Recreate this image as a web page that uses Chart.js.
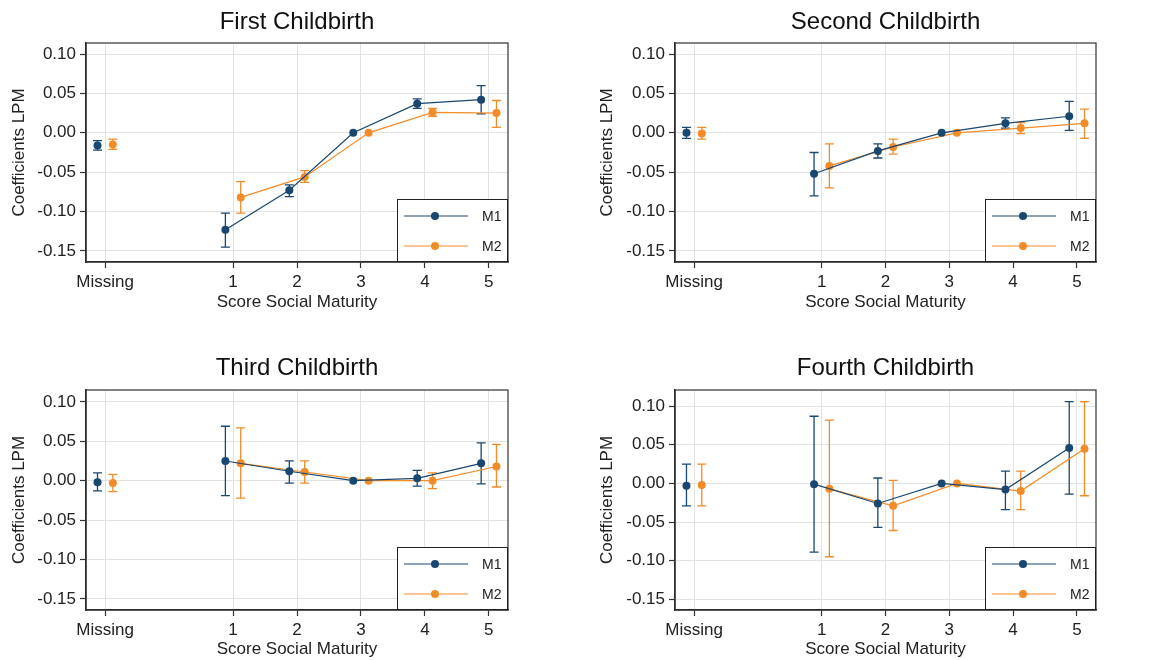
<!DOCTYPE html>
<html>
<head>
<meta charset="utf-8">
<script src="https://cdn.jsdelivr.net/npm/chart.js@4.4.1/dist/chart.umd.min.js"></script>
<style>
  html, body { margin: 0; padding: 0; background: #fff; }
  #wrap { position: relative; width: 1150px; height: 660px; }
  canvas { position: absolute; }
</style>
</head>
<body>
<div id="wrap">
  <canvas id="c0" width="575" height="330" style="left:0;top:0"></canvas>
  <canvas id="c1" width="575" height="330" style="left:575px;top:0"></canvas>
  <canvas id="c2" width="575" height="330" style="left:0;top:330px"></canvas>
  <canvas id="c3" width="575" height="330" style="left:575px;top:330px"></canvas>
</div>
<script>
const titles = ['First Childbirth', 'Second Childbirth', 'Third Childbirth', 'Fourth Childbirth'];
const scoreLabels = ['Missing', '1', '2', '3', '4', '5'];
const scorePos = [-1, 1, 2, 3, 4, 5];
const yTicks = [-0.15, -0.10, -0.05, 0, 0.05, 0.10];
const seriesNames = ['M1', 'M2'];
const yMax = [0.114, 0.114, 0.115, 0.121];
const yMin = -0.164;

// one row per panel, columns follow scoreLabels (score 3 is the reference, no CI)
const m1Coef = [
  [-0.016, -0.123, -0.073, 0, 0.037, 0.042],
  [0.000, -0.052, -0.023, 0, 0.012, 0.021],
  [-0.002, 0.025, 0.012, 0, 0.003, 0.022],
  [-0.003, -0.001, -0.026, 0, -0.008, 0.046]
];
const m1Lo = [
  [-0.022, -0.145, -0.081, null, 0.031, 0.024],
  [-0.007, -0.080, -0.032, null, 0.006, 0.003],
  [-0.013, -0.019, -0.003, null, -0.007, -0.004],
  [-0.029, -0.089, -0.057, null, -0.034, -0.014]
];
const m1Hi = [
  [-0.010, -0.102, -0.066, null, 0.043, 0.060],
  [0.007, -0.025, -0.014, null, 0.019, 0.040],
  [0.010, 0.069, 0.025, null, 0.013, 0.048],
  [0.025, 0.087, 0.007, null, 0.016, 0.106]
];
const m2Coef = [
  [-0.015, -0.082, -0.056, 0, 0.026, 0.025],
  [-0.001, -0.042, -0.018, 0, 0.006, 0.012],
  [-0.003, 0.022, 0.011, 0, 0.000, 0.018],
  [-0.002, -0.007, -0.029, 0, -0.010, 0.045]
];
const m2Lo = [
  [-0.021, -0.102, -0.063, null, 0.021, 0.007],
  [-0.008, -0.070, -0.027, null, -0.001, -0.007],
  [-0.014, -0.022, -0.003, null, -0.010, -0.008],
  [-0.029, -0.095, -0.061, null, -0.034, -0.016]
];
const m2Hi = [
  [-0.008, -0.062, -0.048, null, 0.031, 0.041],
  [0.007, -0.014, -0.008, null, 0.013, 0.030],
  [0.008, 0.067, 0.025, null, 0.010, 0.046],
  [0.025, 0.082, 0.004, null, 0.016, 0.106]
];

const FONT = "'Liberation Sans', Arial, Helvetica, sans-serif";
const colors = ['#1a476f', '#f28c28'];
const shift = [-0.12, 0.12];

// layout per panel (pixels inside each 575x330 canvas)
const layout = [
  { yW: 86,  padR: 67, tTop: 8,    tBot: 6.2, xH: 68, xPad: 17.8, yPad: 8.8 },
  { yW: 100, padR: 54, tTop: 8,    tBot: 6.2, xH: 68, xPad: 17.8, yPad: 21.8 },
  { yW: 86,  padR: 67, tTop: 23.6, tBot: 7.6, xH: 50, xPad: 0,    yPad: 8.8 },
  { yW: 100, padR: 54, tTop: 23.6, tBot: 7.6, xH: 50, xPad: 0,    yPad: 21.8 }
];

const errorBars = {
  id: 'errorBars',
  beforeDatasetsDraw(chart) {
    const { ctx, scales: { x, y } } = chart;
    chart.data.datasets.forEach(ds => {
      ctx.save();
      ctx.strokeStyle = ds.borderColor;
      ctx.lineWidth = 1.3;
      ds.data.forEach((p, i) => {
        const lo = ds.errLo[i], hi = ds.errHi[i];
        if (lo == null) return;
        const px = x.getPixelForValue(p.x);
        const y1 = y.getPixelForValue(lo), y2 = y.getPixelForValue(hi);
        ctx.beginPath();
        ctx.moveTo(px, y1); ctx.lineTo(px, y2);
        ctx.moveTo(px - 4.5, y1); ctx.lineTo(px + 4.5, y1);
        ctx.moveTo(px - 4.5, y2); ctx.lineTo(px + 4.5, y2);
        ctx.stroke();
      });
      ctx.restore();
    });
  }
};

// plot frame + boxed legend in the lower right corner
const frameLegend = {
  id: 'frameLegend',
  afterDraw(chart) {
    const { ctx, chartArea: a } = chart;
    ctx.save();
    ctx.strokeStyle = '#333';
    ctx.lineWidth = 1.2;
    ctx.strokeRect(a.left, a.top, a.right - a.left, a.bottom - a.top);

    const w = 111, h = 63;
    const lx = a.right - w, ly = a.bottom - h;
    ctx.fillStyle = '#fff';
    ctx.fillRect(lx, ly, w, h);
    ctx.lineWidth = 1;
    ctx.strokeStyle = '#222';
    ctx.strokeRect(lx + 0.5, ly + 0.5, w - 1, h - 1);
    seriesNames.forEach((name, i) => {
      const ry = ly + 17 + i * 30;
      ctx.strokeStyle = colors[i];
      ctx.lineWidth = 1.2;
      ctx.beginPath();
      ctx.moveTo(lx + 7, ry); ctx.lineTo(lx + 71, ry);
      ctx.stroke();
      ctx.fillStyle = colors[i];
      ctx.beginPath();
      ctx.arc(lx + 38, ry, 4, 0, Math.PI * 2);
      ctx.fill();
      ctx.fillStyle = '#222';
      ctx.font = '14px ' + FONT;
      ctx.textBaseline = 'middle';
      ctx.textAlign = 'left';
      ctx.fillText(name, lx + 85, ry + 1);
    });
    ctx.restore();
  }
};

function buildDatasets(p) {
  const coef = [m1Coef[p], m2Coef[p]];
  const lo = [m1Lo[p], m2Lo[p]];
  const hi = [m1Hi[p], m2Hi[p]];
  const out = [];
  seriesNames.forEach((name, s) => {
    const pts = scorePos.map((v, i) => ({ x: v + shift[s], y: coef[s][i] }));
    const common = {
      borderColor: colors[s],
      backgroundColor: colors[s],
      pointRadius: 4,
      pointBorderWidth: 0,
      pointHoverRadius: 4,
      borderWidth: 1.2,
      tension: 0
    };
    // "Missing" category, not joined to the scores
    out.push(Object.assign({}, common, {
      label: name + ' missing', data: pts.slice(0, 1),
      errLo: lo[s].slice(0, 1), errHi: hi[s].slice(0, 1), showLine: false
    }));
    out.push(Object.assign({}, common, {
      label: name, data: pts.slice(1),
      errLo: lo[s].slice(1), errHi: hi[s].slice(1), showLine: true
    }));
  });
  return out;
}

titles.forEach((t, p) => {
  const L = layout[p];
  new Chart(document.getElementById('c' + p), {
    type: 'scatter',
    data: { datasets: buildDatasets(p) },
    options: {
      responsive: false,
      animation: false,
      events: [],
      layout: { padding: { left: 0, right: L.padR, top: 0, bottom: 0 } },
      plugins: {
        legend: { display: false },
        tooltip: { enabled: false },
        title: {
          display: true, text: t, fullSize: false, color: '#111',
          font: { family: FONT, size: 24, weight: 'normal' },
          padding: { top: L.tTop, bottom: L.tBot }
        }
      },
      scales: {
        x: {
          type: 'linear', min: -1.3, max: 5.3,
          afterBuildTicks: sc => { sc.ticks = scorePos.map(v => ({ value: v })); },
          afterFit: sc => { sc.height = L.xH; },
          ticks: {
            autoSkip: false, maxRotation: 0, padding: 4, color: '#222',
            font: { family: FONT, size: 17 },
            callback: (v, i) => scoreLabels[i]
          },
          grid: { color: '#e2e2e2', lineWidth: 1, tickLength: 6, tickColor: '#333', tickWidth: 1.2 },
          border: { display: true, color: '#222', width: 1.5 },
          title: {
            display: true, text: 'Score Social Maturity', color: '#222',
            font: { family: FONT, size: 17 }, padding: { top: 0, bottom: L.xPad }
          }
        },
        y: {
          type: 'linear', min: yMin, max: yMax[p],
          afterBuildTicks: sc => { sc.ticks = yTicks.map(v => ({ value: v })); },
          afterFit: sc => { sc.width = L.yW; },
          ticks: {
            padding: 4, color: '#222',
            font: { family: FONT, size: 17 },
            callback: v => v.toFixed(2)
          },
          grid: { color: '#e2e2e2', lineWidth: 1, tickLength: 6, tickColor: '#333', tickWidth: 1.2 },
          border: { display: true, color: '#222', width: 1.5 },
          title: {
            display: true, text: 'Coefficients LPM', color: '#222',
            font: { family: FONT, size: 17 }, padding: { top: L.yPad, bottom: 0 }
          }
        }
      }
    },
    plugins: [errorBars, frameLegend]
  });
});
</script>
</body>
</html>
